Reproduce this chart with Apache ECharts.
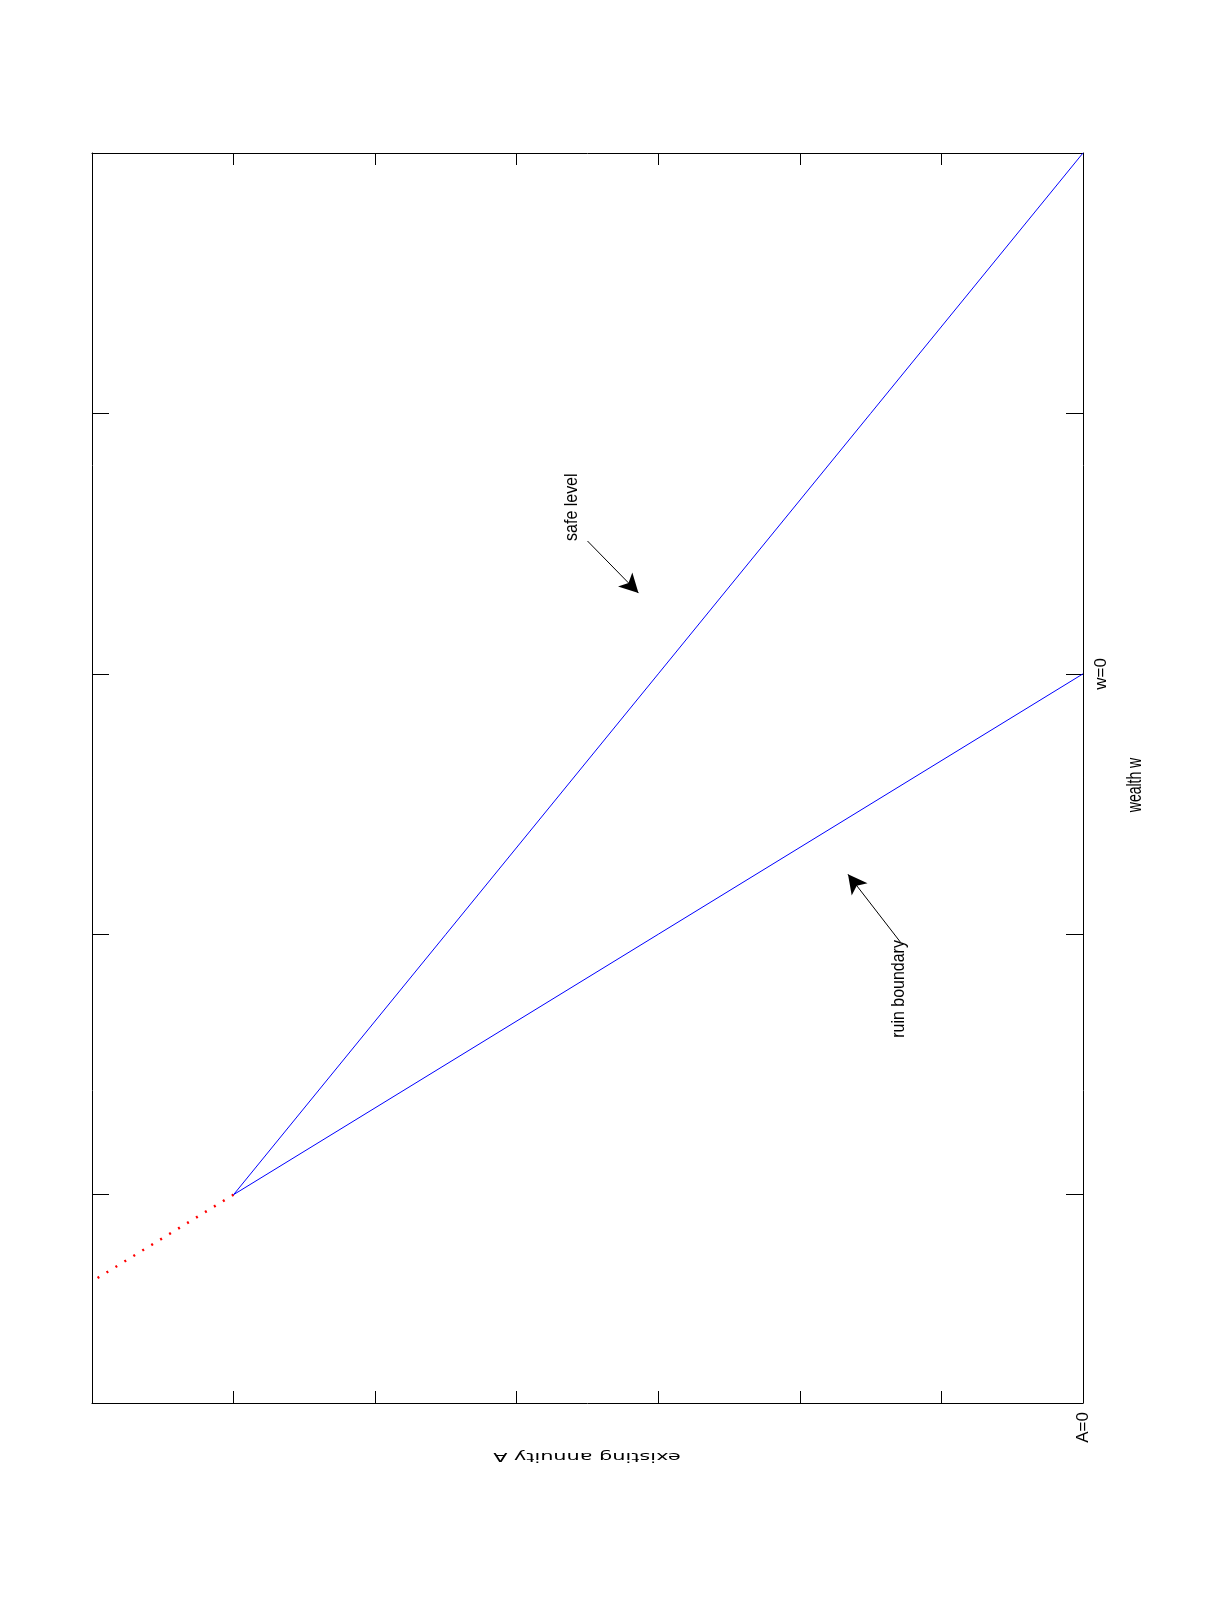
<!DOCTYPE html>
<html>
<head>
<meta charset="utf-8">
<script src="https://cdn.jsdelivr.net/npm/echarts@6/dist/echarts.min.js"></script>
<style>
  html, body { margin: 0; padding: 0; background: #fff; }
  #chart { width: 1216px; height: 1614px; }
</style>
</head>
<body>
<div id="chart"></div>
<script>
// existing annuity A (horizontal, A=0 on the right) and wealth w (vertical)
var safeA = [0, 6];
var safeW = [2, -2];
var ruinA = [0, 6];
var ruinW = [0, -2];
var extA = [6, 7];
var extW = [-2, -2.333];

// annotation texts and arrows [A, w]
var noteText = ["safe level", "ruin boundary"];
var noteAt = [[3.61, 0.64], [1.30, -1.21]];
var arrowFrom = [[3.50, 0.51], [1.29, -1.03]];
var arrowTo = [[3.14, 0.31], [1.66, -0.77]];

var xLabels = { 0: "A=0" };
var yLabels = { 0: "w=0" };

var sans = "'Liberation Sans', Arial, sans-serif";

function pairs(xs, ys) {
  return xs.map(function (x, i) { return [x, ys[i]]; });
}

var chart = echarts.init(document.getElementById("chart"));

var boxX = {
  type: "value",
  min: 0,
  max: 7,
  interval: 1,
  inverse: true,
  splitLine: { show: false },
  axisLine: { show: true, onZero: false, lineStyle: { color: "#000", width: 1 } },
  axisTick: { show: true, inside: true, length: 12, lineStyle: { color: "#000" } },
  axisLabel: { show: false }
};
var boxY = {
  type: "value",
  min: -2.8,
  max: 2,
  minInterval: 1,
  maxInterval: 1,
  splitLine: { show: false },
  axisLine: { show: true, onZero: false, lineStyle: { color: "#000", width: 1 } },
  axisTick: { show: true, inside: true, length: 17, lineStyle: { color: "#000" } },
  axisLabel: { show: false }
};

chart.setOption({
  animation: false,
  backgroundColor: "#fff",
  grid: { left: 92, right: 133, top: 153, bottom: 211 },
  xAxis: [
    Object.assign({}, boxX, {
      position: "bottom",
      axisLabel: {
        show: true,
        rotate: 90,
        margin: 9,
        color: "#000",
        fontFamily: sans,
        fontSize: 17,
        formatter: function (v) { return xLabels[v] || ""; }
      }
    }),
    Object.assign({}, boxX, { position: "top" })
  ],
  yAxis: [
    Object.assign({}, boxY, { position: "left" }),
    Object.assign({}, boxY, {
      position: "right",
      axisLabel: {
        show: true,
        rotate: 90,
        margin: 10,
        color: "#000",
        fontFamily: sans,
        fontSize: 17,
        formatter: function (v) { return yLabels[v] || ""; }
      }
    })
  ],
  graphic: [
    {
      type: "text",
      x: 587,
      y: 1456,
      rotation: Math.PI,
      scaleX: 1.6,
      style: {
        text: "existing annuity A",
        fill: "#000",
        font: "13px 'DejaVu Sans', Arial, sans-serif",
        align: "center",
        verticalAlign: "middle"
      }
    },
    {
      type: "text",
      x: 1135,
      y: 785,
      rotation: Math.PI / 2,
      scaleX: 0.7,
      style: {
        text: "wealth w",
        fill: "#000",
        font: "20px " + sans,
        align: "center",
        verticalAlign: "middle"
      }
    }
  ],
  series: [
    {
      name: "safe level",
      type: "line",
      data: pairs(safeA, safeW),
      showSymbol: false,
      lineStyle: { color: "#0000ff", width: 1 },
      z: 3
    },
    {
      name: "ruin boundary",
      type: "line",
      data: pairs(ruinA, ruinW),
      showSymbol: false,
      lineStyle: { color: "#0000ff", width: 1 },
      z: 3
    },
    {
      name: "extension",
      type: "line",
      data: pairs(extA, extW),
      showSymbol: false,
      lineStyle: { color: "#ff0000", width: 2.5, type: [2, 8.5] },
      z: 2
    },
    {
      name: "notes",
      type: "custom",
      data: noteAt.map(function (p, i) { return [p[0], p[1], i]; }),
      encode: { x: 0, y: 1 },
      renderItem: function (params, api) {
        var pt = api.coord([api.value(0), api.value(1)]);
        return {
          type: "text",
          x: pt[0],
          y: pt[1],
          rotation: Math.PI / 2,
          scaleX: 0.84,
          style: {
            text: noteText[api.value(2)],
            fill: "#000",
            font: "19px " + sans,
            align: "center",
            verticalAlign: "middle"
          }
        };
      },
      markLine: {
        silent: true,
        symbol: ["none", "arrow"],
        symbolSize: [15, 19],
        label: { show: false },
        lineStyle: { color: "#000", width: 1, type: "solid" },
        data: arrowFrom.map(function (p, i) {
          return [{ coord: p }, { coord: arrowTo[i] }];
        })
      }
    }
  ]
});
</script>
</body>
</html>
